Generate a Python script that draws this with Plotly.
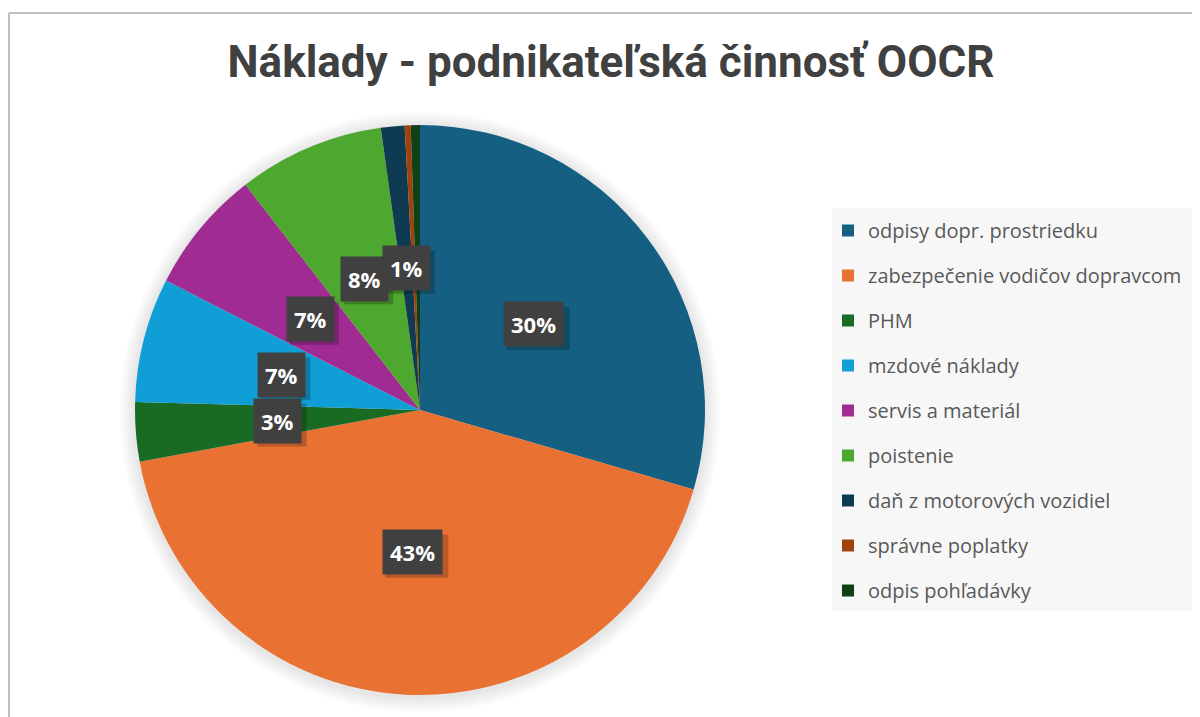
import math
import plotly.graph_objects as go

# ---- data (percent of total) ----
categories = [
    "odpisy dopr. prostriedku",
    "zabezpečenie vodičov dopravcom",
    "PHM",
    "mzdové náklady",
    "servis a materiál",
    "poistenie",
    "daň z motorových vozidiel",
    "správne poplatky",
    "odpis pohľadávky",
]
values = [29.5, 42.6, 3.35, 7.05, 7.01, 8.29, 1.34, 0.34, 0.52]
colors = ["#156082", "#E97132", "#196B24", "#0F9ED5", "#A02B93",
          "#4EA72E", "#0E3B52", "#A0420E", "#113F16"]
title_text = "Náklady - podnikateľská činnosť OOCR"

W, H = 1200, 717
OFF = 8                      # page body margin
CX, CY, R = 420 - OFF, 410 - OFF, 285   # pie centre / radius (paper px)


def dom(cx, cy, r):
    return dict(x=[(cx - r) / W, (cx + r) / W],
                y=[(H - cy - r) / H, (H - cy + r) / H])


fig = go.Figure()

# soft outer shadow of the pie
for k in range(1, 6):
    fig.add_trace(go.Pie(
        values=[1], labels=[""], sort=False, textinfo="none",
        hoverinfo="skip", showlegend=False,
        marker=dict(colors=["rgba(0,0,0,0.02)"], line=dict(width=0)),
        domain=dom(CX, CY + 2, R + 3 * k),
    ))

fig.add_trace(go.Pie(
    labels=categories, values=values, sort=False, direction="clockwise",
    marker=dict(colors=colors, line=dict(width=0)),
    textinfo="none", hoverinfo="label+percent", showlegend=False,
    domain=dom(CX, CY, R),
))

# legend via dummy traces (one group each so spacing can be set)
for c, col in zip(categories, colors):
    fig.add_trace(go.Scatter(
        x=[None], y=[None], mode="markers", name=c, legendgroup=c,
        marker=dict(symbol="square", size=12, color=col),
    ))

# data labels at half radius on each slice's mid-angle
total = sum(values)
ann = []
shadows = []
cum = 0.0
for v in values:
    mid = (cum + v / 2) / total * 2 * math.pi
    cum += v
    pct = round(v / total * 100)
    if v / total * 100 < 1:
        continue
    px = CX + 0.5 * R * math.sin(mid)
    py = CY - 0.5 * R * math.cos(mid)
    txt = f"{pct}%"
    bw = 14 * (len(txt) - 1) + 21 + 14
    bh = 43
    shadows.append(dict(
        type="rect", xref="paper", yref="paper",
        xsizemode="pixel", ysizemode="pixel",
        xanchor=px / W, yanchor=1 - py / H,
        x0=-bw / 2 + 4, x1=bw / 2 + 4, y0=-bh / 2 - 4, y1=bh / 2 - 4,
        fillcolor="rgba(0,0,0,0.22)", line=dict(width=0), layer="above",
    ))
    ann.append(dict(
        x=px / W, y=1 - py / H, xref="paper", yref="paper",
        xanchor="center", yanchor="middle",
        text=txt, showarrow=False,
        font=dict(family="Open Sans", size=22, color="white", weight="bold"),
        bgcolor="#404040", borderpad=7,
    ))

fig.update_layout(
    width=W, height=H,
    margin=dict(l=0, r=0, t=0, b=0),
    paper_bgcolor="white", plot_bgcolor="white",
    title=dict(text=f"<b>{title_text}</b>", x=(611 - OFF) / W,
               xanchor="center", y=1 - (62 - OFF) / H, yanchor="middle",
               yref="container",
               font=dict(family="Roboto", size=44, color="#404040")),
    xaxis=dict(visible=False), yaxis=dict(visible=False),
    showlegend=True,
    legend=dict(x=(828 - OFF) / W, xanchor="left", y=1 - (211 - OFF) / H,
                yanchor="top", bgcolor="rgba(0,0,0,0)", tracegroupgap=16,
                font=dict(family="Open Sans", size=20, color="#595959"),
                itemclick=False),
    annotations=ann,
    shapes=[
        dict(type="rect", xref="paper", yref="paper",
             x0=(832 - OFF) / W, x1=(1194 - OFF) / W,
             y0=1 - (611 - OFF) / H, y1=1 - (208 - OFF) / H,
             fillcolor="#F7F7F7", line=dict(width=0), layer="below"),
        dict(type="line", xref="paper", yref="paper",
             x0=1 / W, x1=1.02, y0=1 - (13 - OFF) / H, y1=1 - (13 - OFF) / H,
             line=dict(color="#BFBFBF", width=2)),
        dict(type="line", xref="paper", yref="paper",
             x0=1 / W, x1=1 / W, y0=1 - (13 - OFF) / H, y1=-0.02,
             line=dict(color="#BFBFBF", width=2)),
    ] + shadows,
)

fig.write_html("out.html")
